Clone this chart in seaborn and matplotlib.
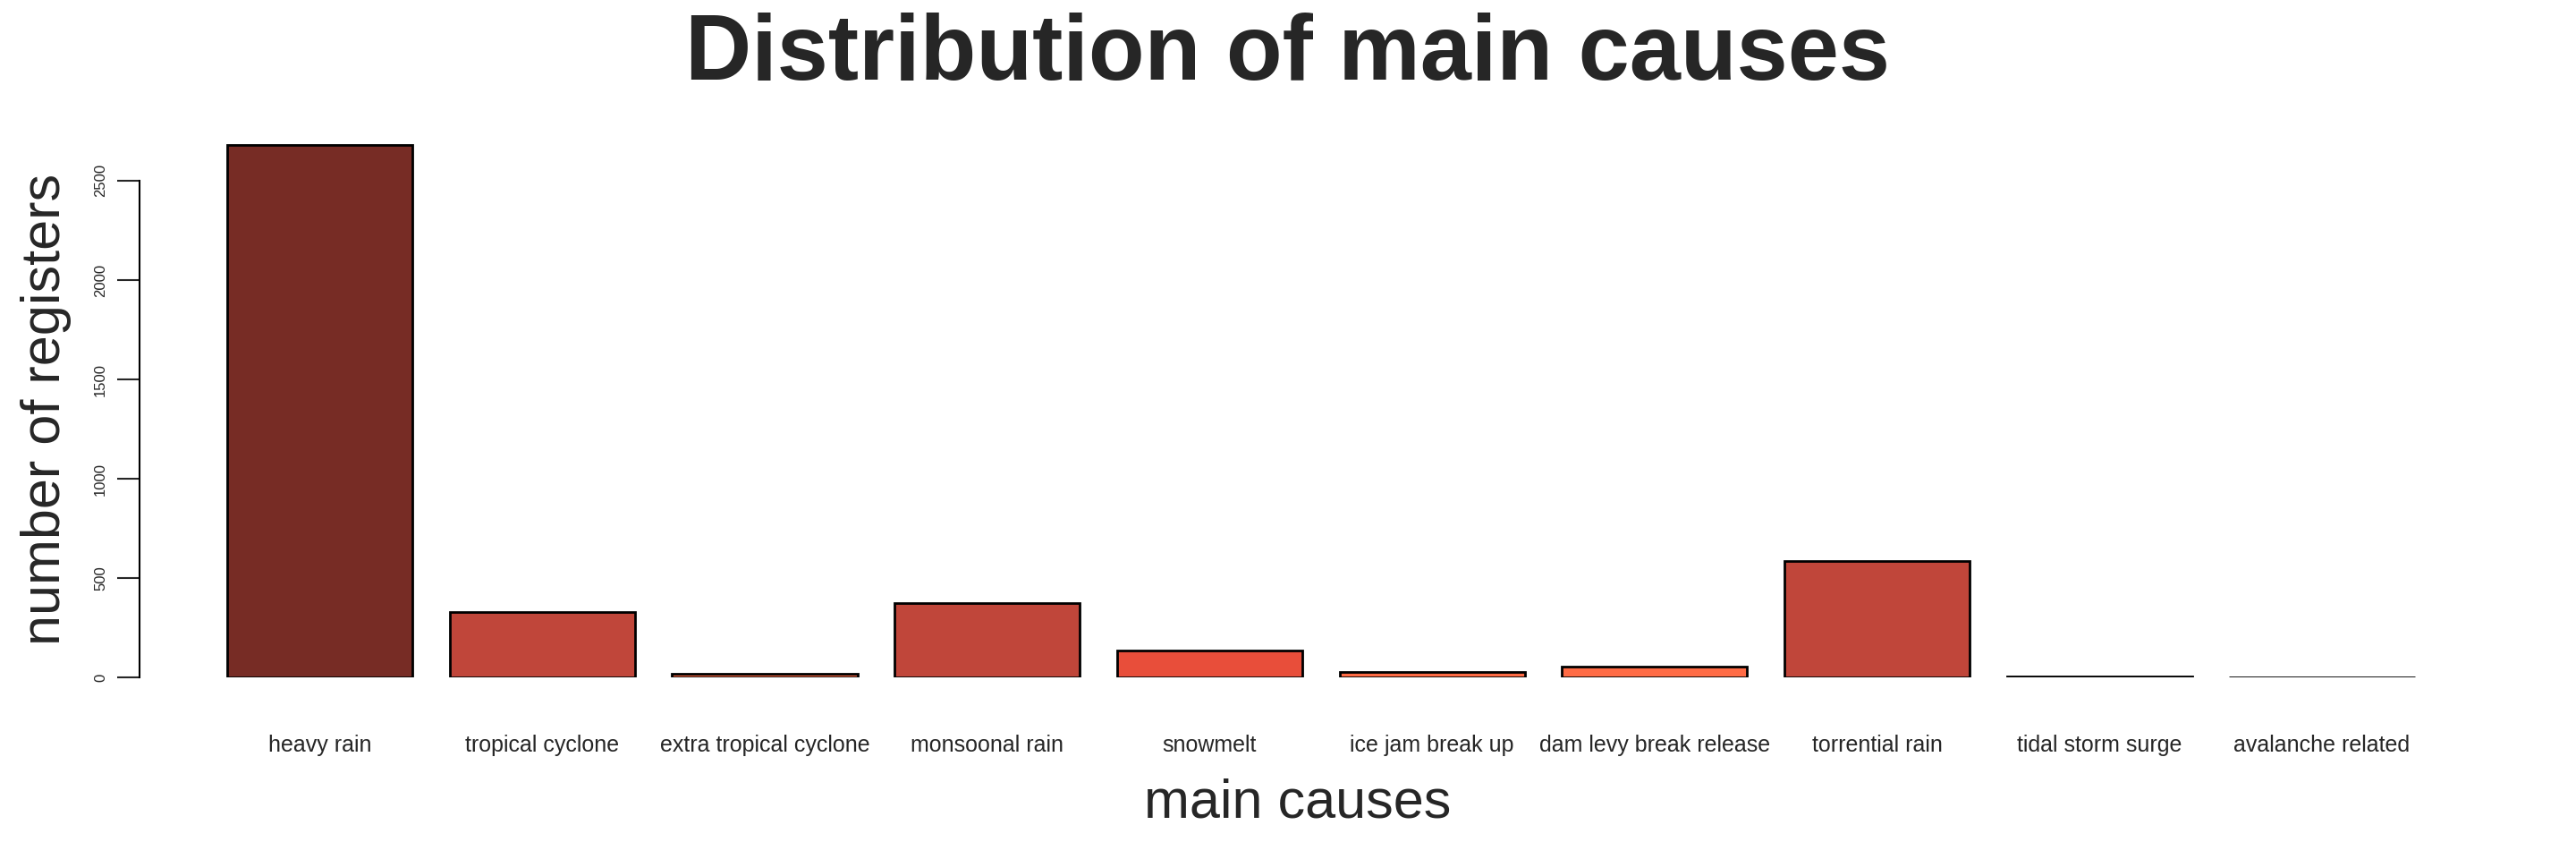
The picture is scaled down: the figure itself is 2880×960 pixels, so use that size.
import seaborn as sns
import matplotlib.pyplot as plt
import pandas as pd

causes = ['heavy rain', 'tropical cyclone', 'extra tropical cyclone', 'monsoonal rain',
          'snowmelt', 'ice jam break up', 'dam levy break release', 'torrential rain',
          'tidal storm surge', 'avalanche related']
counts = [2680, 330, 20, 375, 135, 30, 57, 585, 8, 3]
colors = ['#772C25', '#C0463A', '#FF6B45', '#C0463A', '#E84E3A',
          '#FF6B45', '#FF6B45', '#C0463A', '#FF6B45', '#FF6B45']

df = pd.DataFrame({'cause': causes, 'n': counts})

sns.set_style('white')
plt.rcParams['font.family'] = ['Liberation Sans', 'DejaVu Sans']

fig = plt.figure(figsize=(28.8, 9.6), dpi=100)
ax = fig.add_axes([0.0542, 0.211, 0.899, 0.625])
sns.barplot(data=df, x='cause', y='n', hue='cause', palette=colors, legend=False,
            width=0.833, edgecolor='black', linewidth=2, saturation=1, ax=ax)
ax.set_xlim(-0.81, 9.6)
ax.set_ylim(0, 2700)
for s in ['top', 'right', 'bottom']:
    ax.spines[s].set_visible(False)
ax.spines['left'].set_bounds(0, 2500)
ax.spines['left'].set_linewidth(1.5)
ax.spines['left'].set_color('black')
ax.set_yticks([0, 500, 1000, 1500, 2000, 2500])
ax.tick_params(axis='y', left=True, length=18, width=1.5, labelsize=12, labelrotation=90, pad=8)
for t in ax.get_yticklabels():
    t.set_va('center')
ax.tick_params(axis='x', bottom=False, labelsize=18, pad=42)
ax.set_xlabel('main causes', fontsize=44, labelpad=18)
ax.set_ylabel('number of registers', fontsize=44, labelpad=18)
fig.suptitle('Distribution of main causes', fontsize=74, fontweight='bold', y=0.985)
fig.savefig('out.png', dpi=100, facecolor='white')
